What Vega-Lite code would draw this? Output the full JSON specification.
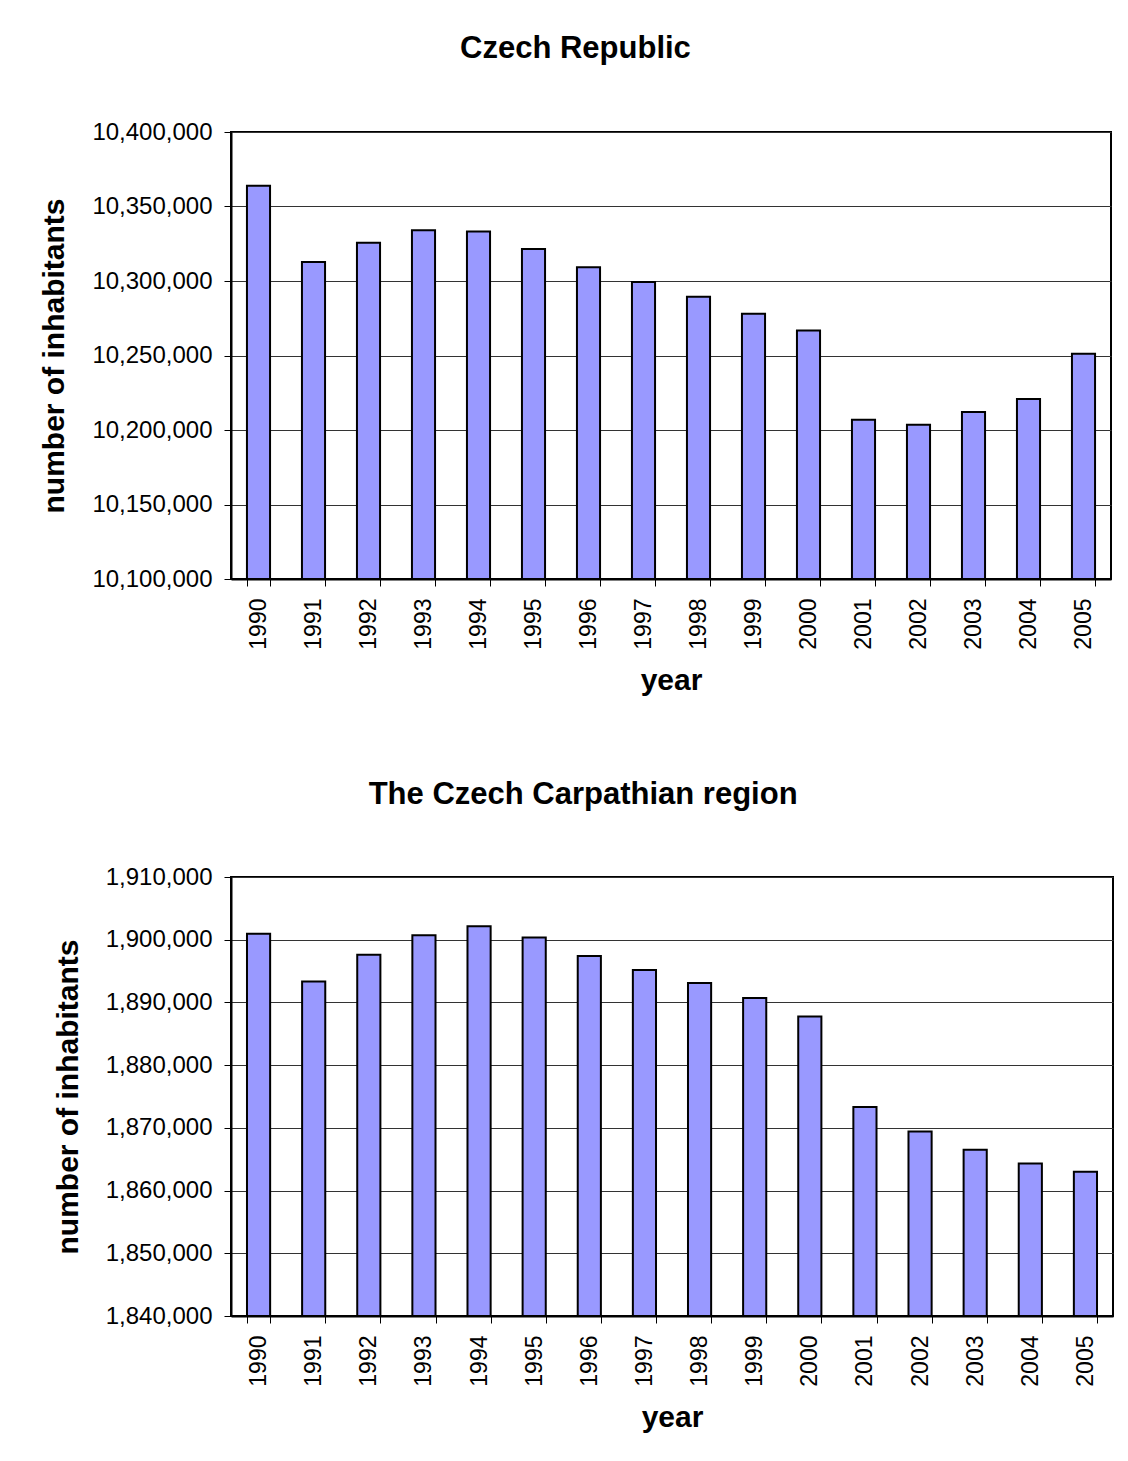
{
  "$schema": "https://vega.github.io/schema/vega-lite/v6.json",
  "padding": {"left": 38, "top": 32, "right": 5, "bottom": 5},
  "background": "white",
  "spacing": 81,
  "datasets": {
    "cz": [
      {"year": "1990", "inhabitants": 10364000},
      {"year": "1991", "inhabitants": 10312800},
      {"year": "1992", "inhabitants": 10325700},
      {"year": "1993", "inhabitants": 10334000},
      {"year": "1994", "inhabitants": 10333300},
      {"year": "1995", "inhabitants": 10321400},
      {"year": "1996", "inhabitants": 10309200},
      {"year": "1997", "inhabitants": 10299400},
      {"year": "1998", "inhabitants": 10289500},
      {"year": "1999", "inhabitants": 10278100},
      {"year": "2000", "inhabitants": 10266700},
      {"year": "2001", "inhabitants": 10206800},
      {"year": "2002", "inhabitants": 10203600},
      {"year": "2003", "inhabitants": 10212100},
      {"year": "2004", "inhabitants": 10220800},
      {"year": "2005", "inhabitants": 10251100}
    ],
    "carp": [
      {"year": "1990", "inhabitants": 1900950},
      {"year": "1991", "inhabitants": 1893320},
      {"year": "1992", "inhabitants": 1897620},
      {"year": "1993", "inhabitants": 1900730},
      {"year": "1994", "inhabitants": 1902160},
      {"year": "1995", "inhabitants": 1900370},
      {"year": "1996", "inhabitants": 1897390},
      {"year": "1997", "inhabitants": 1895170},
      {"year": "1998", "inhabitants": 1893100},
      {"year": "1999", "inhabitants": 1890710},
      {"year": "2000", "inhabitants": 1887760},
      {"year": "2001", "inhabitants": 1873340},
      {"year": "2002", "inhabitants": 1869410},
      {"year": "2003", "inhabitants": 1866500},
      {"year": "2004", "inhabitants": 1864320},
      {"year": "2005", "inhabitants": 1863000}
    ]
  },
  "vconcat": [
    {
      "data": {"name": "cz"},
      "width": 880,
      "height": 447,
      "title": {"text": "Czech Republic", "offset": 55},
      "mark": {"type": "bar", "fill": "#9999FF", "stroke": "#000000", "strokeWidth": 2},
      "encoding": {
        "x": {
          "field": "year", "type": "ordinal",
          "scale": {"paddingInner": 0.58, "paddingOuter": 0.29},
          "axis": {"title": "year", "labelAngle": -90, "tickBand": "extent"}
        },
        "y": {
          "field": "inhabitants", "type": "quantitative",
          "scale": {"domain": [10100000, 10400000], "zero": false, "nice": false},
          "axis": {"title": "number of inhabitants", "format": ",d",
            "values": [10100000, 10150000, 10200000, 10250000, 10300000, 10350000, 10400000]}
        },
        "y2": {"datum": 10100000}
      }
    },
    {
      "data": {"name": "carp"},
      "width": 882,
      "height": 439,
      "title": {"text": "The Czech Carpathian region", "offset": 54},
      "mark": {"type": "bar", "fill": "#9999FF", "stroke": "#000000", "strokeWidth": 2},
      "encoding": {
        "x": {
          "field": "year", "type": "ordinal",
          "scale": {"paddingInner": 0.58, "paddingOuter": 0.29},
          "axis": {"title": "year", "labelAngle": -90, "tickBand": "extent"}
        },
        "y": {
          "field": "inhabitants", "type": "quantitative",
          "scale": {"domain": [1840000, 1910000], "zero": false, "nice": false},
          "axis": {"title": "number of inhabitants", "format": ",d",
            "values": [1840000, 1850000, 1860000, 1870000, 1880000, 1890000, 1900000, 1910000]}
        },
        "y2": {"datum": 1840000}
      }
    }
  ],
  "config": {
    "font": "Liberation Sans",
    "view": {"stroke": "#000000", "strokeWidth": 2},
    "title": {"fontSize": 31, "fontWeight": "bold", "color": "#000000", "anchor": "middle", "frame": "bounds"},
    "axis": {
      "labelFont": "Liberation Sans",
      "titleFont": "Liberation Sans",
      "labelColor": "#000000",
      "titleColor": "#000000",
      "titleFontWeight": "bold",
      "titleFontSize": 30,
      "domainColor": "#000000",
      "domainWidth": 2,
      "tickColor": "#000000",
      "tickWidth": 1,
      "tickSize": 7,
      "gridColor": "#333333",
      "gridWidth": 1,
      "gridOpacity": 1
    },
    "axisY": {"labelFontSize": 24, "labelPadding": 12, "titlePadding": 22, "grid": true},
    "axisX": {"labelFontSize": 23, "labelPadding": 12, "titlePadding": 16, "grid": false, "labelBaseline": "middle", "labelAlign": "right"}
  }
}
